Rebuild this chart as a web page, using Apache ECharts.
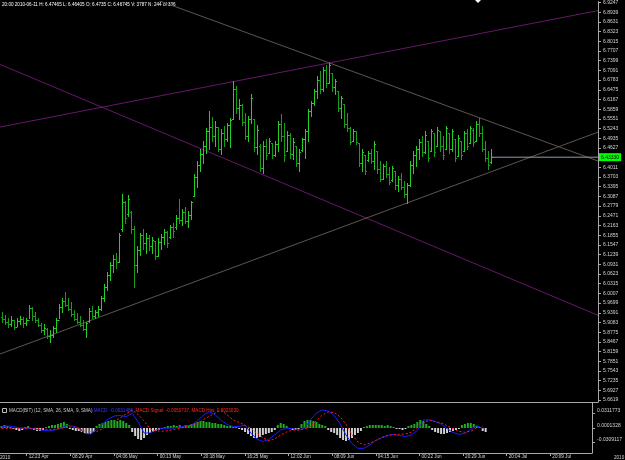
<!DOCTYPE html>
<html>
<head>
<meta charset="utf-8">
<script src="https://cdn.jsdelivr.net/npm/echarts@6/dist/echarts.min.js"></script>
<style>
html, body { margin: 0; padding: 0; background: #000; }
#chart { width: 625px; height: 460px; }
</style>
</head>
<body>
<div id="chart"></div>
<script>
// H4 bars, index 0..163
var opens = [5.925,5.918,5.910,5.902,5.915,5.895,5.912,5.920,5.905,5.917,
  5.955,5.930,5.915,5.900,5.885,5.888,5.866,5.870,5.890,5.915,
  5.958,5.975,5.965,5.952,5.935,5.920,5.910,5.900,5.888,5.912,
  5.945,5.930,5.940,5.952,5.985,6.020,6.060,6.090,6.110,6.100,
  6.205,6.290,6.252,6.258,6.205,6.090,6.140,6.185,6.160,6.175,
  6.150,6.168,6.120,6.165,6.180,6.195,6.180,6.210,6.210,6.240,
  6.235,6.260,6.230,6.250,6.311,6.370,6.410,6.445,6.470,6.515,
  6.530,6.500,6.529,6.460,6.510,6.490,6.535,6.554,6.650,6.590,
  6.600,6.545,6.500,6.555,6.554,6.465,6.470,6.400,6.470,6.447,
  6.478,6.440,6.475,6.540,6.500,6.453,6.505,6.445,6.469,6.415,
  6.455,6.490,6.515,6.580,6.605,6.645,6.680,6.650,6.710,6.670,
  6.700,6.655,6.643,6.590,6.602,6.540,6.525,6.485,6.515,6.478,
  6.415,6.440,6.425,6.448,6.420,6.453,6.395,6.365,6.405,6.380,
  6.360,6.390,6.345,6.365,6.340,6.315,6.345,6.410,6.440,6.460,
  6.480,6.450,6.485,6.453,6.510,6.469,6.516,6.470,6.459,6.510,
  6.460,6.491,6.437,6.485,6.453,6.510,6.478,6.520,6.485,6.540,
  6.510,6.460,6.430,6.418];
var highs = [5.940,5.931,5.921,5.928,5.915,5.921,5.928,5.925,5.921,5.963,
  5.956,5.940,5.921,5.906,5.902,5.890,5.883,5.896,5.921,5.966,
  5.985,6.004,5.985,5.972,5.947,5.937,5.928,5.915,5.909,5.953,
  5.959,5.947,5.959,5.991,6.029,6.067,6.099,6.121,6.130,6.194,
  6.317,6.295,6.314,6.263,6.216,6.152,6.194,6.206,6.194,6.187,
  6.181,6.168,6.175,6.190,6.206,6.200,6.219,6.225,6.250,6.301,
  6.270,6.276,6.263,6.295,6.380,6.421,6.459,6.485,6.526,6.580,
  6.561,6.548,6.529,6.523,6.532,6.542,6.557,6.675,6.659,6.618,
  6.602,6.573,6.564,6.633,6.554,6.535,6.475,6.485,6.491,6.494,
  6.478,6.485,6.548,6.570,6.542,6.516,6.510,6.494,6.469,6.459,
  6.494,6.523,6.586,6.611,6.649,6.690,6.706,6.719,6.725,6.732,
  6.700,6.681,6.643,6.627,6.602,6.573,6.529,6.523,6.516,6.478,
  6.459,6.440,6.453,6.459,6.485,6.453,6.421,6.412,6.421,6.402,
  6.406,6.390,6.374,6.383,6.358,6.352,6.421,6.453,6.469,6.491,
  6.500,6.516,6.485,6.523,6.510,6.529,6.516,6.500,6.532,6.510,
  6.523,6.491,6.504,6.485,6.516,6.523,6.532,6.526,6.548,6.557,
  6.532,6.485,6.453,6.459];
var lows = [5.909,5.902,5.893,5.896,5.887,5.896,5.902,5.893,5.899,5.921,
  5.915,5.909,5.896,5.877,5.871,5.858,5.845,5.861,5.877,5.921,
  5.940,5.959,5.947,5.928,5.915,5.906,5.896,5.883,5.861,5.909,
  5.921,5.921,5.928,5.947,5.978,6.010,6.042,6.067,6.080,6.099,
  6.200,6.225,6.247,6.194,6.020,6.067,6.121,6.143,6.130,6.137,
  6.130,6.111,6.118,6.143,6.156,6.149,6.175,6.181,6.206,6.225,
  6.219,6.225,6.213,6.238,6.311,6.339,6.390,6.415,6.447,6.459,
  6.485,6.469,6.453,6.444,6.469,6.485,6.466,6.554,6.573,6.554,
  6.535,6.491,6.485,6.542,6.453,6.444,6.390,6.383,6.428,6.447,
  6.431,6.437,6.453,6.485,6.421,6.453,6.431,6.428,6.406,6.390,
  6.453,6.431,6.485,6.564,6.599,6.621,6.637,6.643,6.656,6.668,
  6.643,6.633,6.580,6.557,6.529,6.516,6.475,6.485,6.475,6.406,
  6.390,6.380,6.421,6.415,6.396,6.383,6.358,6.364,6.371,6.349,
  6.358,6.333,6.326,6.333,6.307,6.288,6.342,6.383,6.406,6.428,
  6.437,6.447,6.421,6.453,6.437,6.469,6.453,6.428,6.459,6.447,
  6.453,6.421,6.437,6.428,6.453,6.459,6.478,6.469,6.485,6.500,
  6.453,6.421,6.396,6.415];
var closes = [5.918,5.910,5.902,5.915,5.895,5.912,5.920,5.905,5.917,5.955,
  5.930,5.915,5.900,5.885,5.892,5.866,5.870,5.890,5.915,5.958,
  5.975,5.965,5.952,5.935,5.920,5.910,5.900,5.888,5.905,5.945,
  5.930,5.940,5.952,5.985,6.020,6.060,6.090,6.110,6.100,6.185,
  6.290,6.240,6.300,6.205,6.090,6.140,6.185,6.160,6.175,6.150,
  6.170,6.120,6.165,6.180,6.195,6.160,6.210,6.200,6.240,6.235,
  6.260,6.230,6.250,6.290,6.370,6.410,6.445,6.470,6.515,6.530,
  6.500,6.530,6.460,6.510,6.490,6.535,6.550,6.650,6.590,6.600,
  6.545,6.500,6.555,6.620,6.465,6.520,6.400,6.470,6.440,6.485,
  6.440,6.475,6.540,6.500,6.440,6.505,6.445,6.480,6.415,6.450,
  6.490,6.515,6.580,6.605,6.645,6.680,6.650,6.710,6.670,6.725,
  6.655,6.675,6.590,6.620,6.540,6.525,6.480,6.515,6.480,6.415,
  6.450,6.390,6.448,6.420,6.475,6.395,6.365,6.405,6.380,6.355,
  6.400,6.345,6.365,6.340,6.315,6.345,6.410,6.440,6.460,6.480,
  6.450,6.505,6.430,6.515,6.450,6.520,6.470,6.440,6.525,6.460,
  6.515,6.430,6.495,6.440,6.510,6.470,6.525,6.480,6.540,6.510,
  6.460,6.430,6.410,6.433];
var bidPrice = 6.4333;

// MACD and signal, one reading every 2 bars
var macdMain = [0.0028,0.0043,0.0032,0,-0.0006,-0.0011,-0.0032,-0.0049,-0.0064,-0.0043,
  0,0.0054,0.0043,0,-0.0118,-0.0128,-0.0032,0.0086,0.0193,0.0257,
  0.0268,0.0242,0.0315,0.0128,-0.0107,-0.0107,-0.0043,-0.0006,-0.0006,0,
  0.0021,0.0043,0.0064,0.0150,0.0278,0.0349,0.0278,0.0161,0.0075,0.0032,
  0.0032,0.0064,-0.0113,-0.0236,-0.0289,-0.0246,-0.0139,-0.0043,-0.0006,-0.0011,
  -0.0043,-0.0006,0.0171,0.0321,0.0385,0.0364,0.0268,0.0086,-0.0150,-0.0332,
  -0.0435,-0.0435,-0.0364,-0.0268,-0.0203,-0.0156,-0.0139,-0.0161,-0.0182,-0.0150,
  -0.0054,0.0171,0.0171,0.0139,0.0086,-0.0011,-0.0096,-0.0135,-0.0118,-0.0021,
  0.0049,-0.0006];
var macdSignal = [-0.0006,-0.0006,-0.0006,-0.0006,-0.0006,-0.0006,-0.0006,-0.0017,-0.0039,-0.0026,
  -0.0006,0.0011,0.0028,-0.0011,-0.0064,-0.0079,-0.0079,-0.0015,0.0054,0.0139,
  0.0221,0.0300,0.0385,0.0289,0.0150,-0.0017,-0.0060,-0.0071,-0.0056,-0.0034,
  -0.0011,0.0028,0.0064,0.0094,0.0182,0.0253,0.0321,0.0385,0.0278,0.0176,
  0.0118,0.0058,-0.0006,-0.0116,-0.0208,-0.0272,-0.0236,-0.0150,-0.0086,-0.0043,
  -0.0043,-0.0021,0.0021,0.0154,0.0278,0.0343,0.0332,0.0240,0.0075,-0.0139,
  -0.0300,-0.0364,-0.0328,-0.0268,-0.0206,-0.0161,-0.0141,-0.0135,-0.0128,-0.0090,
  0.0009,0.0101,0.0171,0.0139,0.0111,0.0049,-0.0017,-0.0071,-0.0092,-0.0069,
  0,0.0028];
// histogram, one per bar
var macdHist = [0.0043,0.0064,0.0043,0.0021,-0.0021,-0.0043,-0.0064,-0.0043,0.0021,0.0043,
  -0.0021,-0.0043,-0.0064,-0.0064,-0.0043,0.0021,0.0043,0.0064,0.0064,0.0086,
  0.0107,0.0128,0.0086,-0.0021,-0.0043,-0.0064,-0.0064,-0.0086,-0.0107,-0.0128,
  -0.0128,-0.0086,0.0043,0.0086,0.0107,0.0128,0.0150,0.0171,0.0171,0.0150,
  0.0171,0.0150,0.0107,0.0064,-0.0086,-0.0171,-0.0236,-0.0257,-0.0214,-0.0150,
  -0.0107,-0.0086,-0.0064,-0.0043,-0.0021,0.0021,0.0043,0.0043,0.0064,0.0043,
  0.0064,0.0043,0.0064,0.0064,0.0086,0.0107,0.0128,0.0150,0.0150,0.0128,
  0.0128,0.0107,0.0107,0.0086,0.0086,0.0064,0.0043,0.0043,0.0021,0.0021,
  -0.0021,-0.0043,-0.0086,-0.0128,-0.0171,-0.0214,-0.0214,-0.0193,-0.0150,-0.0128,
  -0.0107,-0.0086,-0.0043,0.0064,0.0107,0.0086,0.0043,-0.0021,-0.0043,-0.0043,
  -0.0021,0.0086,0.0150,0.0171,0.0171,0.0150,0.0128,0.0086,0.0064,0.0043,
  -0.0043,-0.0086,-0.0107,-0.0150,-0.0214,-0.0257,-0.0278,-0.0257,-0.0214,-0.0150,
  -0.0107,-0.0064,0.0021,0.0043,0.0064,0.0064,0.0064,0.0064,0.0064,0.0043,
  0.0064,0.0043,0.0021,-0.0021,-0.0021,-0.0043,-0.0021,0.0043,0.0064,0.0086,
  0.0128,0.0171,0.0150,0.0086,0.0043,-0.0043,-0.0086,-0.0107,-0.0128,-0.0128,
  -0.0107,-0.0086,-0.0064,-0.0043,-0.0021,0.0064,0.0086,0.0107,0.0107,0.0086,
  0.0043,0.0021,-0.0064,-0.0086];

// trendlines drawn on the chart: [bar index, price] end points
var trendUpper = [[-0.5, 6.529], [198.83, 6.899]];
var trendFalling = [[-0.5, 6.728], [198.83, 5.931]];
var trendSupport = [[-0.5, 5.808], [198.83, 6.513]];
var trendResist = [[-0.5, 7.115], [198.83, 6.421]];

var timeLabels = ['12:23 Apr', '08:29 Apr', '04:06 May', '00:13 May', '20:18 May', '16:25 May', '12:02 Jun',
  '08:09 Jun', '04:15 Jun', '00:22 Jun', '20:29 Jun', '20:04 Jul', '20:09 Jul'];
var macdLevels = [-0.0309117, 0.0001328, 0.0311773];

var headerText = '20:00 2010-06-11 H: 6.47465 L: 6.46405 O: 6.4735 C: 6.46745 V: 3787 N: 244 of 336';

// axis setup
var xMin = -0.5, xMax = 198.83;
var priceTicks = [];
for (var k = 0; k < 42; k++) {
    priceTicks.push(parseFloat((5.6619 + k * 0.0308).toFixed(4)));
}
var timeTicks = timeLabels.map(function(s, k) { return 8.5 + k * 14.69; });

var bars = opens.map(function(o, i) { return [i, o, closes[i], lows[i], highs[i]]; });

// OHLC bar like MT4: vertical line, open tick left, close tick right
function drawBar(params, api) {
    var o = api.coord([api.value(0), api.value(1)]);
    var c = api.coord([api.value(0), api.value(2)]);
    var l = api.coord([api.value(0), api.value(3)]);
    var h = api.coord([api.value(0), api.value(4)]);
    var xr = Math.round(h[0]);
    var col = api.value(2) >= api.value(1) ? '#22d022' : '#14a014';
    var st = { stroke: col, lineWidth: 1 };
    var yo = Math.round(o[1]) + 0.5, yc = Math.round(c[1]) + 0.5;
    return {
        type: 'group',
        children: [
            { type: 'line', shape: { x1: xr + 0.5, y1: Math.round(h[1]), x2: xr + 0.5, y2: Math.round(l[1]) + 1 }, style: st },
            { type: 'line', shape: { x1: xr - 1, y1: yo, x2: xr + 0.5, y2: yo }, style: st },
            { type: 'line', shape: { x1: xr + 0.5, y1: yc, x2: xr + 2, y2: yc }, style: st }
        ]
    };
}

function trend(data, color) {
    return {
        type: 'line', xAxisIndex: 0, yAxisIndex: 0, data: data, symbol: 'none', silent: true,
        lineStyle: { color: color, width: 1 }, z: 3
    };
}

var axisGray = '#a8a8a8';
var labelGray = '#d4d4d4';

var chart = echarts.init(document.getElementById('chart'));
var option = {
    backgroundColor: '#000000',
    animation: false,
    textStyle: { fontFamily: 'Liberation Sans' },
    grid: [
        { left: 0, right: 27, top: 0, height: 402 },
        { left: 0, right: 27, top: 403, bottom: 7 }
    ],
    xAxis: [{
        gridIndex: 0, type: 'value', min: xMin, max: xMax,
        axisLine: { show: true, onZero: false, lineStyle: { color: axisGray } },
        axisTick: { show: false }, axisLabel: { show: false }, splitLine: { show: false }
    }, {
        gridIndex: 1, type: 'value', min: xMin, max: xMax,
        axisLine: { show: true, onZero: false, lineStyle: { color: axisGray } },
        axisTick: { show: true, customValues: timeTicks, length: 3, lineStyle: { color: axisGray } },
        axisLabel: {
            customValues: timeTicks, align: 'left', margin: 1, fontSize: 4.6, color: labelGray,
            padding: [0, 0, 0, 2],
            formatter: function(v) { return timeLabels[Math.round((v - 8.5) / 14.69)] || ''; }
        },
        splitLine: { show: false }
    }],
    yAxis: [{
        gridIndex: 0, type: 'value', position: 'right', min: 5.6556, max: 6.9278,
        axisLine: { show: true, onZero: false, lineStyle: { color: axisGray } },
        axisTick: { show: true, customValues: priceTicks, length: 3, lineStyle: { color: axisGray } },
        axisLabel: {
            customValues: priceTicks, fontSize: 5, margin: 5, color: labelGray,
            formatter: function(v) { return v.toFixed(4); }
        },
        splitLine: { show: false }
    }, {
        gridIndex: 1, type: 'value', position: 'right', min: -0.0535, max: 0.0535,
        axisLine: { show: true, onZero: false, lineStyle: { color: axisGray } },
        axisTick: { show: true, customValues: macdLevels, length: 3, lineStyle: { color: axisGray } },
        axisLabel: {
            customValues: macdLevels, fontSize: 5, margin: 5, color: labelGray, verticalAlign: 'bottom',
            formatter: function(v) { return v.toFixed(7); }
        },
        splitLine: { show: false }
    }],
    series: [
        trend(trendUpper, '#66186a'),
        trend(trendFalling, '#66186a'),
        trend(trendSupport, '#60554b'),
        trend(trendResist, '#60554b'),
        {
            type: 'custom', xAxisIndex: 0, yAxisIndex: 0, data: bars,
            encode: { x: 0, y: [1, 2, 3, 4] }, renderItem: drawBar, clip: true, z: 4
        },
        {
            type: 'line', xAxisIndex: 0, yAxisIndex: 0, symbol: 'none', silent: true, z: 5,
            data: [[163.3, bidPrice], [xMax, bidPrice]],
            lineStyle: { color: '#8e9db0', width: 1 },
            endLabel: {
                show: true, formatter: bidPrice.toFixed(5), backgroundColor: '#00ff00',
                color: '#000000', fontSize: 5, padding: [2, 2, 1, 2], distance: 1
            }
        },
        {
            type: 'bar', xAxisIndex: 1, yAxisIndex: 1, barWidth: 2,
            data: macdHist.map(function(v, i) { return [i, v]; }),
            itemStyle: { color: function(p) { return p.value[1] >= 0 ? '#1fae1f' : '#d0d0d0'; } }
        },
        {
            type: 'line', xAxisIndex: 1, yAxisIndex: 1, symbol: 'none', z: 4,
            data: macdMain.map(function(v, k) { return [k * 2, v]; }),
            lineStyle: { color: '#1c1cff', width: 1 }
        },
        {
            type: 'line', xAxisIndex: 1, yAxisIndex: 1, symbol: 'none', z: 5,
            data: macdSignal.map(function(v, k) { return [k * 2, v]; }),
            lineStyle: { color: '#ff1c1c', width: 1, type: [2, 2] }
        }
    ],
    graphic: [
        {
            type: 'text', left: 2, top: 2,
            style: { text: headerText, fill: '#ffffff', fontSize: 4.6, fontFamily: 'Liberation Sans' }
        },
        {
            type: 'polygon', shape: { points: [[475, 0], [481, 0], [478, 3]] },
            style: { fill: '#ffffff' }
        },
        {
            type: 'rect', shape: { x: 2.5, y: 408.5, width: 4, height: 4 },
            style: { fill: 'none', stroke: '#c0c0c0', lineWidth: 1 }
        },
        {
            type: 'text', left: 9, top: 408,
            style: {
                text: '{a|MACD(BIT) (12, SMA, 26, SMA, 9, SMA)}{b| MACD: -0.0031486,}{c| MACD Signal: -0.0050737,}{c| MACD Hist: 0.0023030}',
                fontSize: 4.6, fontFamily: 'Liberation Sans',
                rich: {
                    a: { fill: '#c8c8c8', fontSize: 4.6 },
                    b: { fill: '#3a3aff', fontSize: 4.6 },
                    c: { fill: '#ff2a2a', fontSize: 4.6 }
                }
            }
        },
        {
            type: 'text', left: 0, top: 455,
            style: { text: '2010', fill: labelGray, fontSize: 4.6, fontFamily: 'Liberation Sans' }
        },
        {
            type: 'text', left: 614, top: 455,
            style: { text: '2010', fill: labelGray, fontSize: 4.6, fontFamily: 'Liberation Sans' }
        }
    ]
};
chart.setOption(option);
</script>
</body>
</html>
